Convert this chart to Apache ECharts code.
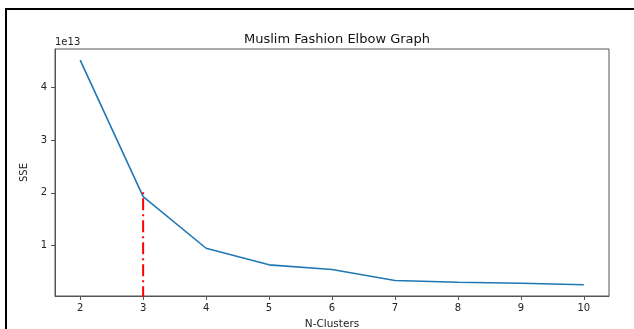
<!DOCTYPE html>
<html><head><meta charset="utf-8">
<script src="https://cdn.jsdelivr.net/npm/echarts@6/dist/echarts.min.js"></script>
<style>html,body{margin:0;padding:0;background:#fff}#c{width:634px;height:329px}</style>
</head><body><div id="c"></div>
<script>
const clusters = [2, 3, 4, 5, 6, 7, 8, 9, 10];
const sse = [4.52e13, 1.93e13, 0.95e13, 0.635e13, 0.546e13, 0.338e13, 0.306e13, 0.287e13, 0.257e13];
const elbowX = 3;
const elbowTop = 2.03e13;
const xTicks = [2, 3, 4, 5, 6, 7, 8, 9, 10];
const yTicks = [1e13, 2e13, 3e13, 4e13];
const title = 'Muslim Fashion Elbow Graph';
const xName = 'N-Clusters';
const yName = 'SSE';

const chart = echarts.init(document.getElementById('c'), null, {renderer: 'canvas'});
const font = 'DejaVu Sans';
const gridL = 55, gridT = 49, gridR = 25, gridB = 33;
chart.setOption({
  animation: false,
  backgroundColor: '#fff',
  title: {text: title, left: 332, textAlign: 'center', top: 28,
    textStyle: {fontFamily: font, fontSize: 13, fontWeight: 'normal', color: '#111'}},
  grid: {left: gridL, top: gridT, right: gridR, bottom: gridB, show: true, borderColor: '#555', borderWidth: 1,
    containLabel: false, outerBoundsMode: 'none'},
  xAxis: {type: 'value', min: 1.6, max: 10.4,
    axisLine: {show: true, onZero: false, lineStyle: {color: '#555', width: 1}},
    splitLine: {show: false},
    axisTick: {show: true, length: 4, customValues: xTicks, lineStyle: {color: '#555'}},
    axisLabel: {customValues: xTicks, margin: 7, fontFamily: font, fontSize: 10, color: '#222'},
    name: xName, nameLocation: 'middle', nameGap: 23,
    nameTextStyle: {fontFamily: font, fontSize: 10.5, color: '#222'}},
  yAxis: {type: 'value', min: 0.044e13, max: 4.73e13,
    axisLine: {show: true, onZero: false, lineStyle: {color: '#555', width: 1}},
    splitLine: {show: false},
    axisTick: {show: true, length: 4, customValues: yTicks, lineStyle: {color: '#555'}},
    axisLabel: {customValues: yTicks, margin: 8, fontFamily: font, fontSize: 10, color: '#222',
      formatter: v => String(Math.round(v / 1e13))},
    name: yName, nameLocation: 'middle', nameGap: 22, nameRotate: 90,
    nameTextStyle: {fontFamily: font, fontSize: 10, color: '#222'}},
  graphic: [
    {type: 'rect', shape: {x: 6, y: 9, width: 700, height: 400}, style: {fill: 'none', stroke: '#000', lineWidth: 2}, z: 100},
    {type: 'text', left: 55, top: 37, style: {text: '1e13', fontFamily: font, fontSize: 10, fill: '#222'}}
  ],
  series: [
    {type: 'line', data: clusters.map((c, i) => [c, sse[i]]), showSymbol: false, symbol: 'none',
      lineStyle: {color: '#1f77b4', width: 1.6}, z: 3},
    {type: 'line', data: [[elbowX, 0], [elbowX, elbowTop]], showSymbol: false, symbol: 'none', clip: true,
      lineStyle: {color: '#ff0000', width: 2, type: [12, 4, 2, 4]}, z: 4}
  ]
});
</script></body></html>
